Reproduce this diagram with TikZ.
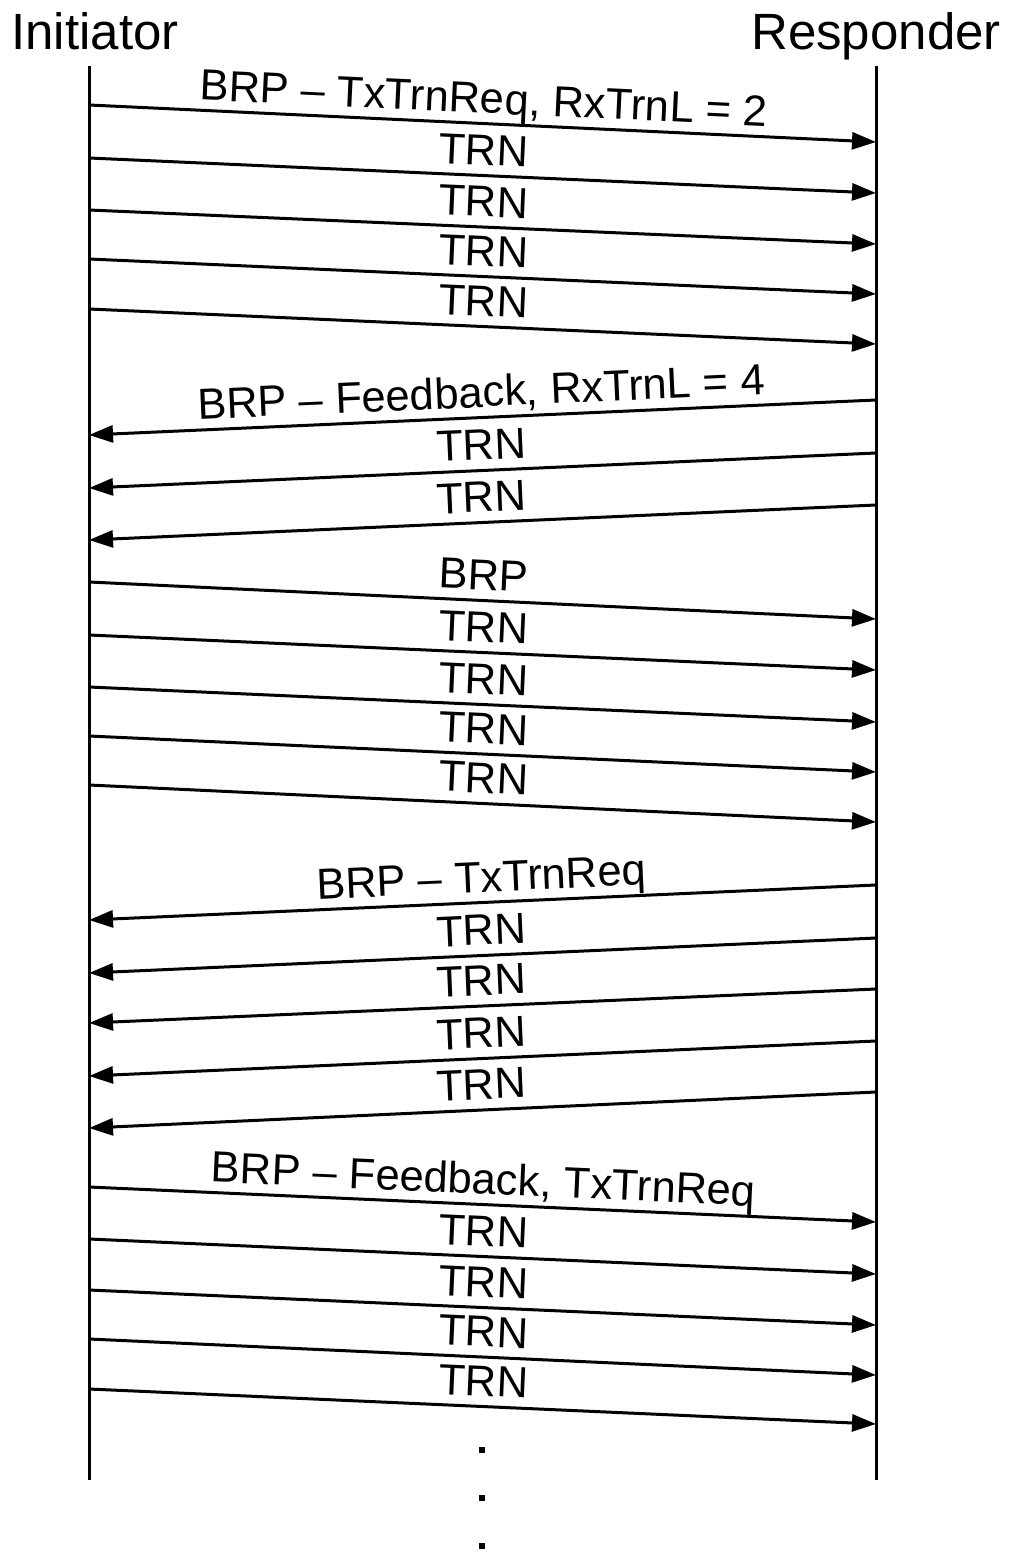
\documentclass[tikz,border=0pt]{standalone}
\usepackage{fontspec}
\setmainfont{Liberation Sans}
\usetikzlibrary{arrows.meta}
\begin{document}
\begin{tikzpicture}[x=1pt,y=-1pt,
  lifeline/.style={line width=3pt},
  msg/.style={line width=3pt,-{Triangle[length=24pt,width=17pt]}},
  lbl/.style={font=\fontsize{43.5}{43.5}\selectfont, sloped, above, text depth=0pt, inner xsep=0pt, inner ysep=9pt, pos=0.5},
  titletext/.style={font=\fontsize{51}{51}\selectfont, inner sep=0pt, anchor=base},
  dotmark/.style={fill=black, minimum size=6pt, inner sep=0pt}]
\useasboundingbox (0,0) rectangle (1011,1552);
\node[titletext] (ini) at (95,50) {Initiator};
\node[titletext] (res) at (876,50) {Responder};
\coordinate (Ltop) at (89,66);
\coordinate (Lbot) at (89,1480);
\coordinate (Rtop) at (876,66);
\coordinate (Rbot) at (876,1480);
\draw[lifeline] (Ltop) -- (Lbot);
\draw[lifeline] (Rtop) -- (Rbot);
% rightward messages: left y, right y
\foreach \i/\ly/\ry in {1/105/142, 2/158/193, 3/210/244, 4/259/294, 5/309/344,
  9/582/619, 10/635/670, 11/687/722, 12/736/772, 13/785/822,
  19/1187/1222, 20/1239/1274, 21/1290/1325, 22/1339/1375, 23/1389/1424} {
  \coordinate (L\i) at (89,\ly);
  \coordinate (R\i) at (876,\ry);
}
% leftward messages: right y, left y
\foreach \i/\ry/\ly in {6/400/435, 7/453/488, 8/505/540,
  14/885/920, 15/938/973, 16/989/1023, 17/1041/1076, 18/1092/1128} {
  \coordinate (R\i) at (876,\ry);
  \coordinate (L\i) at (89,\ly);
}
\draw[msg] (L1) -- node[lbl] (t1) {BRP – TxTrnReq, RxTrnL = 2} (R1);
\draw[msg] (L2) -- node[lbl] (t2) {TRN} (R2);
\draw[msg] (L3) -- node[lbl] (t3) {TRN} (R3);
\draw[msg] (L4) -- node[lbl] (t4) {TRN} (R4);
\draw[msg] (L5) -- node[lbl] (t5) {TRN} (R5);
\draw[msg] (R6) -- node[lbl] (t6) {BRP – Feedback, RxTrnL = 4} (L6);
\draw[msg] (R7) -- node[lbl] (t7) {TRN} (L7);
\draw[msg] (R8) -- node[lbl] (t8) {TRN} (L8);
\draw[msg] (L9) -- node[lbl] (t9) {BRP} (R9);
\draw[msg] (L10) -- node[lbl] (t10) {TRN} (R10);
\draw[msg] (L11) -- node[lbl] (t11) {TRN} (R11);
\draw[msg] (L12) -- node[lbl] (t12) {TRN} (R12);
\draw[msg] (L13) -- node[lbl] (t13) {TRN} (R13);
\draw[msg] (R14) -- node[lbl] (t14) {BRP – TxTrnReq} (L14);
\draw[msg] (R15) -- node[lbl] (t15) {TRN} (L15);
\draw[msg] (R16) -- node[lbl] (t16) {TRN} (L16);
\draw[msg] (R17) -- node[lbl] (t17) {TRN} (L17);
\draw[msg] (R18) -- node[lbl] (t18) {TRN} (L18);
\draw[msg] (L19) -- node[lbl] (t19) {BRP – Feedback, TxTrnReq} (R19);
\draw[msg] (L20) -- node[lbl] (t20) {TRN} (R20);
\draw[msg] (L21) -- node[lbl] (t21) {TRN} (R21);
\draw[msg] (L22) -- node[lbl] (t22) {TRN} (R22);
\draw[msg] (L23) -- node[lbl] (t23) {TRN} (R23);
\node[dotmark] (d1) at (482,1450) {};
\node[dotmark] (d2) at (482,1498) {};
\node[dotmark] (d3) at (482,1546) {};
\end{tikzpicture}
\end{document}
